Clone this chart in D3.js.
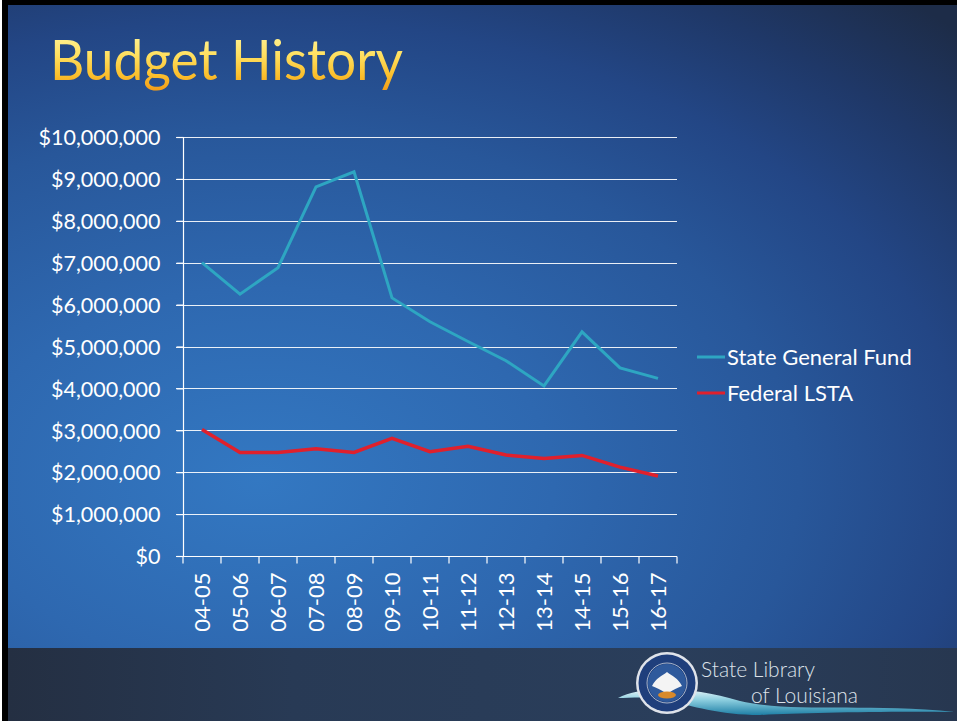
<!DOCTYPE html>
<html>
<head>
<meta charset="utf-8">
<script src="https://cdn.jsdelivr.net/npm/d3@7"></script>
<style>
  html, body { margin: 0; padding: 0; background: #000; }
  svg { display: block; }
</style>
</head>
<body>
<svg id="chart" width="957" height="721"></svg>
<script>
// ---- data ----
const categories = ["04-05","05-06","06-07","07-08","08-09","09-10","10-11","11-12","12-13","13-14","14-15","15-16","16-17"];
const stateGeneralFund = [7000000, 6250000, 6880000, 8810000, 9170000, 6160000, 5590000, 5120000, 4660000, 4060000, 5350000, 4490000, 4240000];
const federalLSTA = [3020000, 2470000, 2470000, 2560000, 2470000, 2810000, 2490000, 2620000, 2410000, 2330000, 2400000, 2120000, 1910000];
const yTickValues = [0, 1000000, 2000000, 3000000, 4000000, 5000000, 6000000, 7000000, 8000000, 9000000, 10000000];
const yTickLabels = ["$0","$1,000,000","$2,000,000","$3,000,000","$4,000,000","$5,000,000","$6,000,000","$7,000,000","$8,000,000","$9,000,000","$10,000,000"];
const seriesNames = ["State General Fund", "Federal LSTA"];
const seriesColors = ["#2ea6c2", "#e0202c"];

const svg = d3.select("#chart");
const W = 957, H = 721;
const FONT = "Lato, 'Open Sans', sans-serif";

// ---- defs ----
const defs = svg.append("defs");
const rg = defs.append("radialGradient").attr("id", "bg")
  .attr("gradientUnits", "userSpaceOnUse")
  .attr("cx", 0).attr("cy", 0).attr("r", 1)
  .attr("gradientTransform", "translate(260,480) scale(980,640)");
[[0, "#3378c2"], [0.3, "#2e68b0"], [0.55, "#28579a"], [0.72, "#234685"], [0.86, "#1f3868"], [1, "#1d2c48"]]
  .forEach(([o, c]) => rg.append("stop").attr("offset", o).attr("stop-color", c));

const tg = defs.append("linearGradient").attr("id", "titleGrad").attr("x1", 0).attr("y1", 0).attr("x2", 0).attr("y2", 1);
[[0, "#fffbb0"], [0.45, "#ffe060"], [0.75, "#fbbf2c"], [1, "#f39a16"]]
  .forEach(([o, c]) => tg.append("stop").attr("offset", o).attr("stop-color", c));

const bandG = defs.append("linearGradient").attr("id", "bandGrad").attr("x1", 0).attr("y1", 0).attr("x2", 1).attr("y2", 0);
[[0, "#242f42"], [0.3, "#283a55"], [0.7, "#2a3e5b"], [1, "#273750"]]
  .forEach(([o, c]) => bandG.append("stop").attr("offset", o).attr("stop-color", c));

const swG = defs.append("linearGradient").attr("id", "swoosh").attr("x1", 0).attr("y1", 0).attr("x2", 0).attr("y2", 1);
[[0, "#e8f4f8"], [0.4, "#8fd0e0"], [1, "#1e7fa6"]]
  .forEach(([o, c]) => swG.append("stop").attr("offset", o).attr("stop-color", c));

// ---- background ----
svg.append("rect").attr("width", W).attr("height", H).attr("fill", "#000");
svg.append("rect").attr("x", 8).attr("y", 5).attr("width", W - 8).attr("height", H - 5).attr("fill", "url(#bg)");
svg.append("rect").attr("x", 8).attr("y", 648).attr("width", W - 8).attr("height", H - 648).attr("fill", "url(#bandGrad)");
svg.append("rect").attr("x", 0).attr("y", 0).attr("width", 2).attr("height", H).attr("fill", "#ffffff");

// ---- title ----
svg.append("text")
  .attr("x", 50).attr("y", 80)
  .attr("font-family", FONT).attr("font-size", 56)
  .attr("textLength", 353).attr("lengthAdjust", "spacingAndGlyphs")
  .attr("fill", "url(#titleGrad)")
  .text("Budget History");

// ---- scales ----
const x = d3.scaleBand().domain(categories).range([183, 677]).padding(0);
const y = d3.scaleLinear().domain([0, 10000000]).range([556, 137]);

const plot = svg.append("g");

// gridlines
plot.append("g").selectAll("line").data(yTickValues.slice(1)).join("line")
  .attr("x1", 176).attr("x2", 677)
  .attr("y1", d => Math.round(y(d)) + 0.5).attr("y2", d => Math.round(y(d)) + 0.5)
  .attr("stroke", "#ffffff").attr("stroke-opacity", 0.9).attr("stroke-width", 1.2);

// y axis
const yAxis = d3.axisLeft(y).tickValues(yTickValues)
  .tickFormat((d, i) => yTickLabels[i]).tickSize(7).tickPadding(16);
const yg = plot.append("g").attr("transform", "translate(183.5,0)").call(yAxis);
yg.select(".domain").attr("stroke", "#fff").attr("stroke-width", 1.2).attr("d", `M0,${y(10000000)}V${y(0)}`);
yg.selectAll(".tick line").attr("stroke", "#fff").attr("stroke-width", 1.2);
yg.selectAll(".tick text").attr("fill", "#ffffff")
  .attr("font-family", FONT).attr("font-size", 21.5).attr("dy", "0.36em");

// x axis
const xAxis = d3.axisBottom(x).tickSize(0).tickFormat(() => "");
const xg = plot.append("g").attr("transform", `translate(0,${Math.round(y(0)) + 0.5})`).call(xAxis);
xg.select(".domain").attr("stroke", "#fff").attr("stroke-width", 1.2).attr("d", `M176,0H677`);
const bounds = categories.map(c => x(c)).concat([x.range()[1]]);
xg.append("g").selectAll("line").data(bounds).join("line")
  .attr("x1", d => d).attr("x2", d => d).attr("y1", 0).attr("y2", 7)
  .attr("stroke", "#fff").attr("stroke-width", 1.2);
xg.append("g").selectAll("text").data(categories).join("text")
  .attr("transform", d => `translate(${x(d) + x.bandwidth() / 2},16) rotate(-90)`)
  .attr("text-anchor", "end").attr("dy", "0.36em")
  .attr("fill", "#fff").attr("font-family", FONT).attr("font-size", 22)
  .text(d => d);

// lines
const series = [stateGeneralFund, federalLSTA];
const line = d3.line()
  .x((d, i) => x(categories[i]) + x.bandwidth() / 2)
  .y(d => y(d));
series.forEach((vals, si) => {
  plot.append("path").datum(vals)
    .attr("d", line)
    .attr("fill", "none")
    .attr("stroke", seriesColors[si])
    .attr("stroke-width", si === 0 ? 3 : 3.5)
    .attr("stroke-linejoin", "miter");
});

// legend
const legend = svg.append("g");
const legY = [357, 393];
seriesNames.forEach((name, i) => {
  legend.append("line").attr("x1", 697).attr("x2", 725).attr("y1", legY[i]).attr("y2", legY[i])
    .attr("stroke", seriesColors[i]).attr("stroke-width", 3);
  legend.append("text").attr("x", 727).attr("y", legY[i]).attr("dy", "0.36em")
    .attr("fill", "#fff").attr("font-family", FONT).attr("font-size", 22)
    .text(name);
});

// ---- logo ----
const logo = svg.append("g");
logo.append("path")
  .attr("d", "M618,698 C640,686 690,686 740,701 C790,713 860,703 955,712 C880,711 800,713 760,715 C720,715 690,706 670,700 C650,696 630,698 618,698 Z")
  .attr("fill", "url(#swoosh)");
logo.append("circle").attr("cx", 667).attr("cy", 683).attr("r", 31).attr("fill", "#dfe3ea");
logo.append("circle").attr("cx", 667).attr("cy", 683).attr("r", 28.5).attr("fill", "#1f3f7c");
logo.append("circle").attr("cx", 667).attr("cy", 683).attr("r", 20).attr("fill", "none").attr("stroke", "#c9d0dc").attr("stroke-width", 0.8);
logo.append("circle").attr("cx", 667).attr("cy", 683).attr("r", 19).attr("fill", "#2f5a9c");
// pelican (simplified)
logo.append("path")
  .attr("d", "M667,672 C662,676 656,678 652,686 C657,688 661,690 664,692 L670,692 C673,690 677,688 682,686 C678,678 672,676 667,672 Z")
  .attr("fill", "#f4f4f4");
logo.append("ellipse").attr("cx", 667).attr("cy", 695).attr("rx", 9).attr("ry", 3.5).attr("fill", "#d98a2b");
logo.append("text").attr("x", 701).attr("y", 677)
  .attr("font-family", FONT).attr("font-weight", 300).attr("font-size", 21)
  .attr("fill", "#dde2ea").text("State Library");
logo.append("text").attr("x", 751).attr("y", 703)
  .attr("font-family", FONT).attr("font-weight", 300).attr("font-size", 21)
  .attr("fill", "#dde2ea").text("of Louisiana");
</script>
</body>
</html>
